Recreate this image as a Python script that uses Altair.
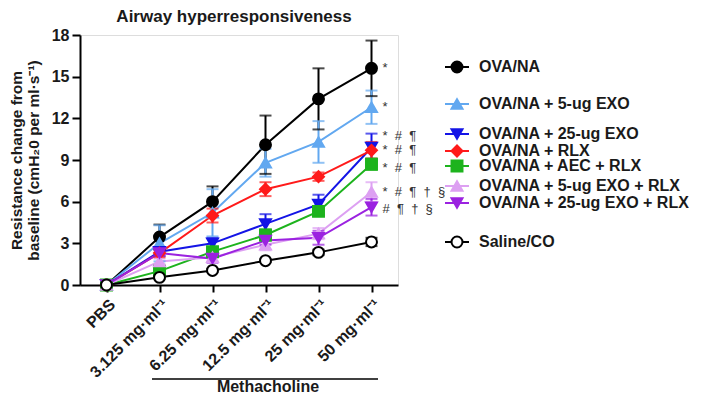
import altair as alt
import pandas as pd

doses = ["PBS", "3.125 mg·ml⁻¹", "6.25 mg·ml⁻¹", "12.5 mg·ml⁻¹", "25 mg·ml⁻¹", "50 mg·ml⁻¹"]

series = [
    "OVA/NA",
    "OVA/NA + 5-ug EXO",
    "OVA/NA + 25-ug EXO",
    "OVA/NA + RLX",
    "OVA/NA + AEC + RLX",
    "OVA/NA + 5-ug EXO + RLX",
    "OVA/NA + 25-ug EXO + RLX",
    "Saline/CO",
]

values = [
    [0, 3.45, 6.0, 10.1, 13.4, 15.6],
    [0, 3.0, 5.2, 8.8, 10.3, 12.8],
    [0, 2.4, 3.0, 4.4, 5.8, 9.9],
    [0, 2.3, 5.0, 6.9, 7.8, 9.7],
    [0, 1.0, 2.4, 3.6, 5.3, 8.7],
    [0, 1.7, 2.0, 2.9, 3.7, 6.7],
    [0, 2.3, 1.9, 3.2, 3.4, 5.6],
    [0, 0.55, 1.05, 1.75, 2.35, 3.1],
]

errors = [
    [0, 0.9, 1.1, 2.1, 2.2, 2.0],
    [0, 1.3, 1.7, 1.0, 1.5, 1.2],
    [0, 0.3, 0.4, 0.7, 0.7, 1.0],
    [0, 0.3, 0.5, 0.5, 0.3, 0.6],
    [0, 0.2, 0.3, 0.4, 0.3, 0.4],
    [0, 0.2, 0.3, 0.4, 0.4, 0.7],
    [0, 0.2, 0.3, 0.3, 0.5, 0.6],
    [0, 0.1, 0.1, 0.1, 0.2, 0.3],
]

NB = "\u00a0\u00a0"
annotations = ["*", "*", NB.join(["*", "#", "¶"]), NB.join(["*", "#", "¶"]), NB.join(["*", "#", "¶"]),
               NB.join(["*", "#", "¶", "†", "§"]), NB.join(["#", "¶", "†", "§"]), ""]
annotation_y = [15.6, 12.8, 10.7, 9.7, 8.4, 6.7, 5.5, 3.1]

colors = ["#000000", "#62A8F0", "#1414E6", "#FF1A1A", "#1DB31D", "#DDA0F2", "#9B22E0", "#000000"]
fills = ["#000000", "#62A8F0", "#1414E6", "#FF1A1A", "#1DB31D", "#DDA0F2", "#9B22E0", "#FFFFFF"]
shapes = ["circle", "triangle-up", "triangle-down", "diamond", "square", "triangle-up", "triangle-down", "circle"]

# legend layout (pixel rows relative to plot top)
legend_rows = [32, 69, 99, 116, 131, 151, 168, 207]

rows = []
for si, s in enumerate(series):
    for di, d in enumerate(doses):
        v = values[si][di]
        e = errors[si][di]
        rows.append({"series": s, "sidx": si, "dose": d, "didx": di, "value": v,
                     "lo": v - e, "hi": v + e})
df = pd.DataFrame(rows)

ann_df = pd.DataFrame({"series": series, "text": annotations, "y": annotation_y,
                       "dose": [doses[-1]] * len(series)})
leg_df = pd.DataFrame({"series": series, "ly": legend_rows, "sidx": list(range(len(series)))})

FONT = "Liberation Sans"
TXT = "#1a1a1a"

color_scale = alt.Scale(domain=series, range=colors)
fill_scale = alt.Scale(domain=series, range=fills)
shape_scale = alt.Scale(domain=series, range=shapes)

x_enc = alt.X("dose:N", sort=doses,
              scale=alt.Scale(type="point", domain=doses, padding=0.5),
              axis=alt.Axis(title=None, labelAngle=-45, labelFontSize=16, labelFontWeight="bold",
                            labelFont=FONT, labelColor=TXT, domainColor="#000000", domainWidth=2,
                            tickColor="#000000", tickWidth=2, tickSize=7, labelPadding=4))
y_scale = alt.Scale(domain=[0, 18], nice=False, zero=True)
y_enc = alt.Y("value:Q", scale=y_scale,
              axis=alt.Axis(values=[0, 3, 6, 9, 12, 15, 18], grid=False,
                            title=["Resistance change from", "baseline (cmH₂0 per ml·s⁻¹)"],
                            titleFontSize=15.5, titleFontWeight="bold", titleFont=FONT,
                            titleColor=TXT, titlePadding=10, titleLineHeight=17,
                            labelFontSize=16, labelFontWeight="bold", labelFont=FONT,
                            labelColor=TXT, domainColor="#000000", domainWidth=2,
                            tickColor="#000000", tickWidth=2, tickSize=8, labelPadding=3))

base = alt.Chart(df)

lines = base.mark_line(strokeWidth=2).encode(
    x=x_enc, y=y_enc,
    color=alt.Color("series:N", scale=color_scale, legend=None),
    detail="series:N",
    order=alt.Order("didx:Q"),
)

err_rules = base.mark_rule(strokeWidth=2).encode(
    x=alt.X("dose:N", sort=doses), y=alt.Y("lo:Q", scale=y_scale), y2="hi:Q",
    color=alt.Color("series:N", scale=color_scale, legend=None),
)
err_hi = base.mark_tick(size=12, thickness=2).encode(
    x=alt.X("dose:N", sort=doses), y=alt.Y("hi:Q", scale=y_scale),
    color=alt.Color("series:N", scale=color_scale, legend=None),
)
err_lo = base.mark_tick(size=12, thickness=2).encode(
    x=alt.X("dose:N", sort=doses), y=alt.Y("lo:Q", scale=y_scale),
    color=alt.Color("series:N", scale=color_scale, legend=None),
)

points = base.mark_point(size=120, filled=False, strokeWidth=2, opacity=1).encode(
    x=alt.X("dose:N", sort=doses), y=alt.Y("value:Q", scale=y_scale),
    shape=alt.Shape("series:N", scale=shape_scale, legend=None),
    fill=alt.Fill("series:N", scale=fill_scale, legend=None),
    stroke=alt.Stroke("series:N", scale=color_scale, legend=None),
    order=alt.Order("sidx:Q"),
)

ann = alt.Chart(ann_df).mark_text(align="left", baseline="middle", dx=11, fontSize=13,
                                   font=FONT, color="#333333").encode(
    x=alt.X("dose:N", sort=doses), y=alt.Y("y:Q", scale=y_scale), text="text:N")

leg = alt.Chart(leg_df)
leg_lines = leg.mark_rule(strokeWidth=2).encode(
    x=alt.value(365), x2=alt.value(389),
    y=alt.Y("ly:Q", scale=None, axis=None),
    color=alt.Color("series:N", scale=color_scale, legend=None),
)
leg_pts = leg.mark_point(size=120, filled=False, strokeWidth=2, opacity=1).encode(
    x=alt.value(377),
    y=alt.Y("ly:Q", scale=None, axis=None),
    shape=alt.Shape("series:N", scale=shape_scale, legend=None),
    fill=alt.Fill("series:N", scale=fill_scale, legend=None),
    stroke=alt.Stroke("series:N", scale=color_scale, legend=None),
)
leg_text = leg.mark_text(align="left", baseline="middle", fontSize=16, fontWeight="bold",
                         font=FONT, color=TXT).encode(
    x=alt.value(399),
    y=alt.Y("ly:Q", scale=None, axis=None),
    text="series:N",
)

meth_line = alt.Chart(pd.DataFrame({"a": [0]})).mark_rule(strokeWidth=1.5, color="#000000").encode(
    x=alt.value(72), x2=alt.value(298), y=alt.value(344))
meth_text = alt.Chart(pd.DataFrame({"a": [0]})).mark_text(
    text="Methacholine", fontSize=16, fontWeight="bold", font=FONT, color=TXT,
    align="center", baseline="middle").encode(x=alt.value(188), y=alt.value(352))

main = alt.layer(lines, err_rules, err_hi, err_lo, points, ann, meth_line, meth_text)
legend_layer = alt.layer(leg_lines, leg_pts, leg_text)

chart = alt.layer(main, legend_layer).resolve_scale(y="independent").properties(
    width=318, height=250,
    title=alt.TitleParams("Airway hyperresponsiveness", fontSize=17, fontWeight="bold",
                          font=FONT, color=TXT, anchor="middle", offset=1, dx=-5),
    autosize=alt.AutoSizeParams(type="none"),
    padding={"left": 72, "top": 27, "right": 302, "bottom": 111},
).configure_view(stroke=None).configure(background="#ffffff")

chart.save("out.html", embed_options={"renderer": "svg", "actions": False})
